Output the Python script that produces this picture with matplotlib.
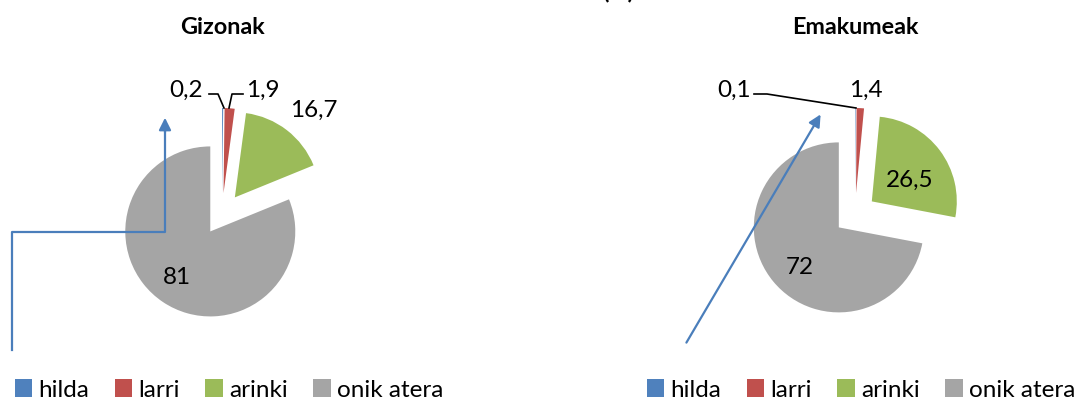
# Two exploded pie charts: injury outcome by sex (%)

import matplotlib.pyplot as plt

categories = ['hilda', 'larri', 'arinki', 'onik atera']
gizonak = [0.2, 1.9, 16.7, 81]
emakumeak = [0.1, 1.4, 26.5, 72]
titles = ['Gizonak', 'Emakumeak']
colors = ['#4F81BD', '#C0504D', '#9BBB59', '#A5A5A5']

W, H = 1077, 403
plt.rcParams['font.family'] = ['Lato', 'DejaVu Sans']


def fmt(v):
    s = ('%.1f' % v).rstrip('0').rstrip('.')
    return s.replace('.', ',')


def Y(y):
    # image rows (top down) -> data y (bottom up)
    return H - y


fig = plt.figure(figsize=(W / 100, H / 100), dpi=100, facecolor='white')
ax = fig.add_axes([0, 0, 1, 1])

pies = [
    dict(vals=gizonak, cx=222, leg_x=229,
         labels=[(186, 90), (263, 90), (314, 110), (177, 277)]),
    dict(vals=emakumeak, cx=855, leg_x=861,
         labels=[(734, 90), (866, 90), (910, 180), (800, 268)]),
]

legends = []
for p, title in zip(pies, titles):
    wedges, _ = ax.pie(p['vals'], colors=colors, startangle=90, counterclock=False,
                       radius=85, center=(p['cx'], Y(214)), explode=[21] * 4,
                       wedgeprops=dict(linewidth=0))
    for v, (lx, ly) in zip(p['vals'], p['labels']):
        ax.text(lx, Y(ly), fmt(v), fontsize=17.5, ha='center', va='center')
    ax.text(p['cx'], Y(27), title, fontsize=16.8, fontweight='bold',
            ha='center', va='center')
    leg = ax.legend(wedges, categories, loc='center', ncol=4, frameon=False,
                    bbox_to_anchor=(p['leg_x'] / W, 13 / H), fontsize=17.5,
                    handlelength=0.72, handleheight=0.72, handletextpad=0.25,
                    columnspacing=1.05)
    legends.append(leg)
ax.add_artist(legends[0])

# leader lines for the thin slices
ax.plot([209, 218, 224], [Y(94), Y(94), Y(108)], color='black', lw=1.2)
ax.plot([243, 232, 229], [Y(94), Y(94), Y(108)], color='black', lw=1.2)
ax.plot([754, 767, 856], [Y(94), Y(94), Y(108)], color='black', lw=1.2)

# stray blue connector arrows
blue = '#4A7EBB'
ax.plot([12, 12, 165, 165], [Y(350), Y(232), Y(232), Y(130)], color=blue, lw=1.6)
ax.annotate('', xy=(165, Y(115)), xytext=(165, Y(135)),
            arrowprops=dict(arrowstyle='-|>', color=blue, lw=1.6, mutation_scale=18))
ax.annotate('', xy=(822, Y(112)), xytext=(685, Y(345)),
            arrowprops=dict(arrowstyle='-|>', color=blue, lw=1.6, mutation_scale=18))

# title cut at the top edge (as in the source image)
ax.text(618, Y(-2), '(%)', fontsize=16.8, fontweight='bold', ha='center', va='baseline')

ax.set_xlim(0, W)
ax.set_ylim(0, H)
ax.set_aspect('auto')
ax.axis('off')

plt.savefig('out.png', dpi=100, facecolor='white')
plt.close()
